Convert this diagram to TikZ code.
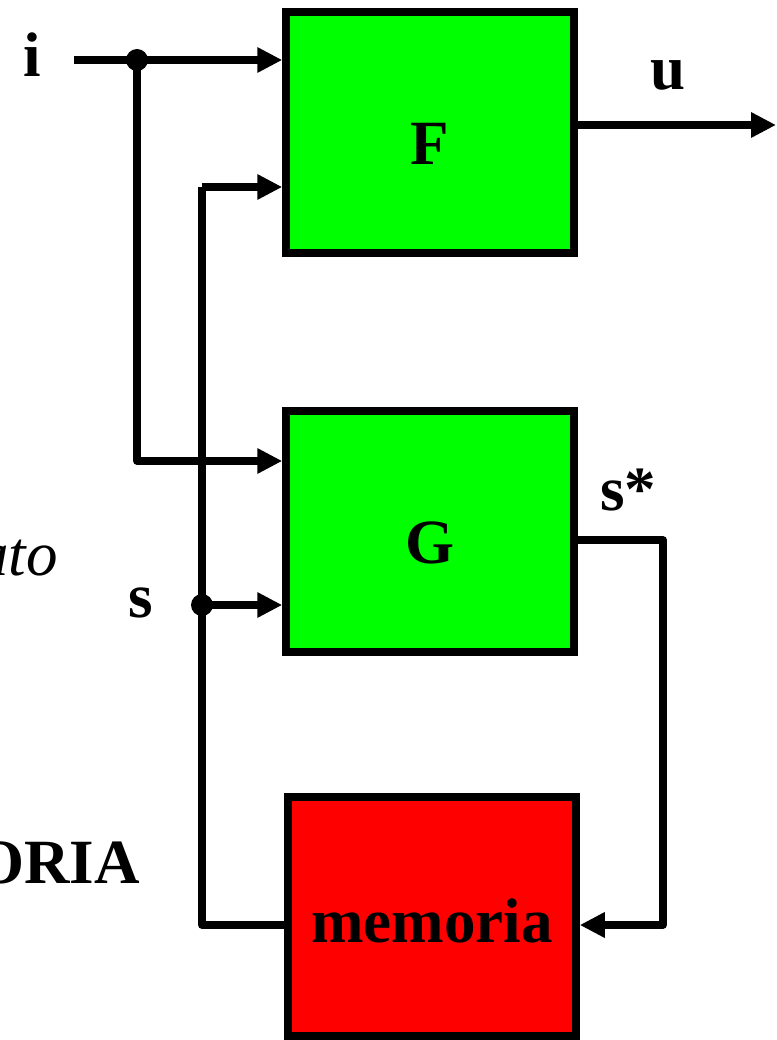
\documentclass[tikz,border=0pt]{standalone}
\usepackage{fontspec}
\setmainfont{Liberation Serif}
\usetikzlibrary{arrows.meta}
\begin{document}
\begin{tikzpicture}[x=1pt,y=-1pt,
  block/.style={draw=black,line width=7.5pt,rectangle,inner sep=0pt,
    minimum width=288pt,minimum height=241pt,font=\fontsize{63}{63}\selectfont\bfseries},
  wire/.style={line width=7.5pt,line join=round},
  arr/.style={wire,-{Triangle[length=25pt,width=24pt]}},
  lbl/.style={inner sep=0pt,anchor=base,font=\fontsize{63}{63}\selectfont\bfseries},
  junction/.style={circle,fill=black,inner sep=0pt,minimum size=22pt}]
\useasboundingbox (0,0) rectangle (776,1040);
\clip (0,0) rectangle (776,1040);

% the three blocks
\node[block,fill=green] (F) at (430,132.5) {};
\node[block,fill=green] (G) at (430,531.5) {};
\node[block,fill=red,minimum height=239pt] (M) at (432,916.5) {};
\node[lbl] at (430,165) {F};
\node[lbl] at (430,563) {G};
\node[lbl] at (432,942) {memoria};

% reference points
\coordinate (iin) at (74,60);
\node[junction] (j1) at (137,60) {};
\coordinate (ylo) at (0,461);
\coordinate (sfb) at (202,187);
\node[junction] (j2) at (202,605) {};
\coordinate (smem) at (202,925);
\coordinate (uout) at (776,125);
\coordinate (gout) at (574,540);
\coordinate (sret) at (663,540);

% input i to F and G
\draw[arr] (iin) -- (iin -| F.west);
\draw[arr] (j1.center) |- (ylo -| G.west);

% state s from memory to F and G
\draw[wire] (M.west |- smem) -- (smem) -- (sfb);
\draw[arr] (sfb) -- (sfb -| F.west);
\draw[arr] (j2.center) -- (j2 -| G.west);

% output u
\draw[arr] (uout -| F.east) -- (uout);

% next state s* back into memory
\draw[arr] (gout) -- (sret) |- (M.east |- smem);

% labels
\node[lbl] at (32,77) {i};
\node[lbl] at (668,90) {u};
\node[lbl,anchor=base west] at (600,510) {s*};
\node[lbl] at (141,617) {s};
\node[lbl,anchor=base east,font=\fontsize{63}{63}\selectfont\itshape] at (58,575) {stato};
\node[lbl,anchor=base east] at (140,883) {MEMORIA};
\end{tikzpicture}
\end{document}
